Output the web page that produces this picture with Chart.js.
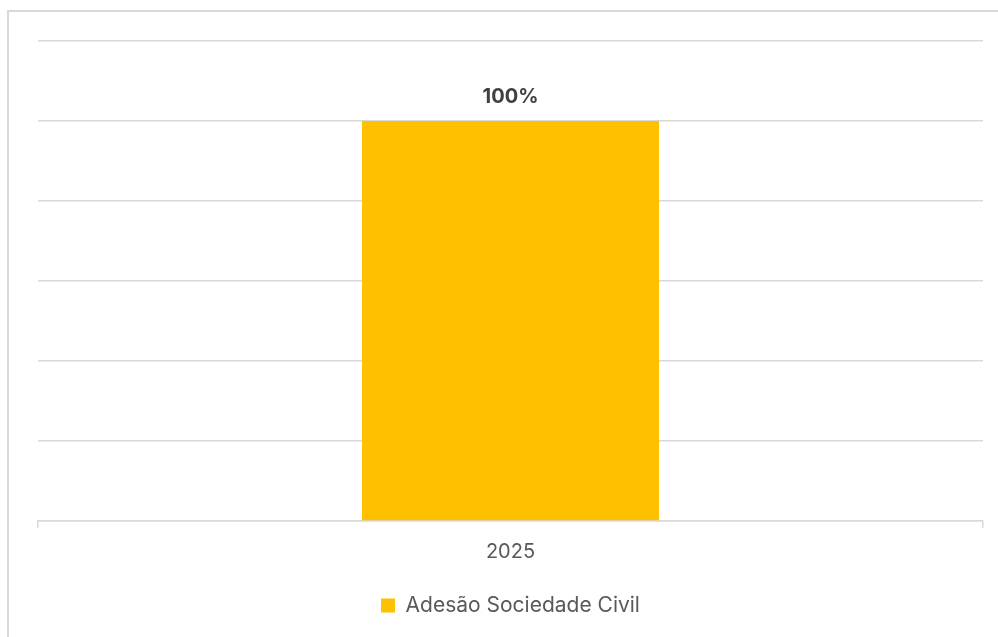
<!DOCTYPE html>
<html>
<head>
<meta charset="utf-8">
<script src="https://cdn.jsdelivr.net/npm/chart.js@4/dist/chart.umd.min.js"></script>
<style>
  html, body { margin: 0; padding: 0; background: #fff; overflow: hidden; }
  #wrap { position: relative; width: 998px; height: 637px; }
  #frame {
    position: absolute; left: 7px; top: 10px; width: 1100px; height: 700px;
    border-left: 2px solid #d9d9d9; border-top: 2px solid #d9d9d9;
  }
  canvas { position: absolute; left: 0; top: 0; }
</style>
</head>
<body>
<div id="wrap">
  <div id="frame"></div>
  <canvas id="chart" width="998" height="637"></canvas>
</div>
<script>
const categories = ['2025'];
const seriesName = 'Adesão Sociedade Civil';
const seriesValues = [1.0];
const barColor = '#FFC000';
const textColor = '#595959';
const fontFamily = 'Inter, "Open Sans", sans-serif';

// draws the "100%" label above each bar
const valueLabels = {
  id: 'valueLabels',
  afterDatasetsDraw(chart) {
    const ctx = chart.ctx;
    const meta = chart.getDatasetMeta(0);
    ctx.save();
    ctx.font = 'bold 20px ' + fontFamily;
    ctx.fillStyle = '#404040';
    ctx.textAlign = 'center';
    ctx.textBaseline = 'alphabetic';
    meta.data.forEach((bar, i) => {
      const v = chart.data.datasets[0].data[i];
      ctx.fillText(Math.round(v * 100) + '%', bar.x, bar.y - 18);
    });
    ctx.restore();
  }
};

new Chart(document.getElementById('chart'), {
  type: 'bar',
  data: {
    labels: categories,
    datasets: [{
      label: seriesName,
      data: seriesValues,
      backgroundColor: barColor,
      borderWidth: 0,
      categoryPercentage: 1,
      barPercentage: 0.3143
    }]
  },
  options: {
    responsive: false,
    animation: false,
    layout: { padding: { left: 38, right: 15, top: 41, bottom: 11 } },
    plugins: {
      legend: {
        position: 'bottom',
        labels: {
          boxWidth: 14,
          boxHeight: 14,
          padding: 10,
          color: textColor,
          font: { family: fontFamily, size: 21 }
        }
      },
      tooltip: { enabled: false }
    },
    scales: {
      y: {
        min: 0,
        max: 1.2,
        ticks: { display: false, stepSize: 0.2 },
        grid: { color: '#d9d9d9', lineWidth: 1.5, drawTicks: false },
        border: { display: false },
        afterFit(scale) { scale.width = 0; }
      },
      x: {
        offset: true,
        grid: { offset: true, drawOnChartArea: false, drawTicks: true, tickLength: 7, color: '#d9d9d9', lineWidth: 1.5 },
        border: { color: '#d9d9d9', width: 1.5 },
        ticks: { color: textColor, padding: 12, font: { family: fontFamily, size: 20 } },
        afterFit(scale) { scale.height = 64; }
      }
    }
  },
  plugins: [valueLabels]
});
</script>
</body>
</html>
